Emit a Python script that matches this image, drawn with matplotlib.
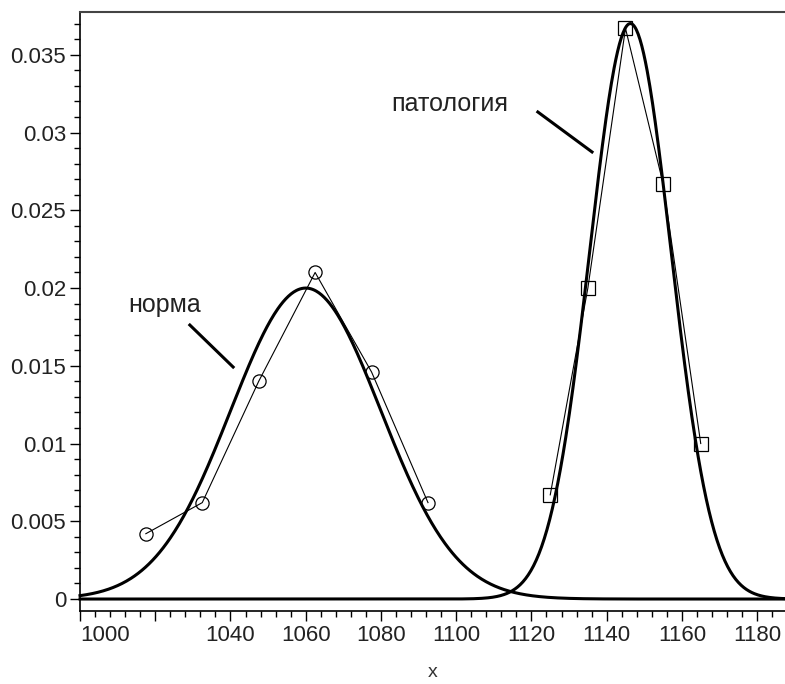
import numpy as np
import matplotlib.pyplot as plt
from matplotlib.ticker import MultipleLocator

# fitted normal curves (mean, sigma)
norm_mu, norm_sigma = 1060, 19.95
pat_mu, pat_sigma = 1146.3, 10.78

# histogram points
norm_x = [1017.5, 1032.5, 1047.5, 1062.5, 1077.5, 1092.5]
norm_y = [0.0042, 0.0062, 0.0140, 0.0210, 0.0146, 0.0062]
pat_x = [1125, 1135, 1145, 1155, 1165]
pat_y = [0.0067, 0.0200, 0.0367, 0.0267, 0.0100]

xticks = [1000, 1020, 1040, 1060, 1080, 1100, 1120, 1140, 1160, 1180]
xlabels = ['1000', '', '1040', '1060', '1080', '1100', '1120', '1140', '1160', '1180']
yticks = [0, 0.005, 0.01, 0.015, 0.02, 0.025, 0.03, 0.035]
ylabels = ['0', '0.005', '0.01', '0.015', '0.02', '0.025', '0.03', '0.035']

def gauss(x, mu, s):
    return np.exp(-(x - mu) ** 2 / (2 * s * s)) / (s * np.sqrt(2 * np.pi))

plt.rcParams['font.family'] = ['Liberation Sans', 'DejaVu Sans']

fig = plt.figure(figsize=(7.85, 6.84), dpi=100)
ax = fig.add_axes([80 / 785, 73 / 684, 705 / 785, 599 / 684])

xs = np.linspace(1000, 1190, 800)
ax.plot(xs, gauss(xs, norm_mu, norm_sigma), color='black', lw=2.2, clip_on=False)
ax.plot(xs, gauss(xs, pat_mu, pat_sigma), color='black', lw=2.2, clip_on=False)

ax.plot(norm_x, norm_y, color='black', lw=0.8, marker='o', ms=9.5,
        mfc='none', mec='black', mew=0.9)
ax.plot(pat_x, pat_y, color='black', lw=0.8, marker='s', ms=9.5,
        mfc='none', mec='black', mew=0.9)

# labels with pointer lines
ax.plot([1029.2, 1040.7], [0.01762, 0.01492], color='black', lw=2.2)
ax.plot([1121.7, 1136.1], [0.03132, 0.02875], color='black', lw=2.2)
ax.text(1012.8, 0.0189, 'норма', fontsize=18, va='center', ha='left', color='#222222')
ax.text(1082.7, 0.03183, 'патология', fontsize=18, va='center', ha='left', color='#222222')

ax.set_xlim(1000, 1187.4)
ax.set_ylim(-0.00077, 0.03775)

ax.set_xticks(xticks)
ax.set_xticklabels(xlabels)
ax.set_yticks(yticks)
ax.set_yticklabels(ylabels)
ax.xaxis.set_minor_locator(MultipleLocator(4))
ax.yaxis.set_minor_locator(MultipleLocator(0.001))
ax.tick_params(axis='both', which='major', direction='out', length=7, width=1,
               labelsize=16, colors='black', labelcolor='#222222', pad=3)
ax.tick_params(axis='both', which='minor', direction='out', length=4, width=1)
ax.get_xticklabels()[0].set_ha('left')

ax.spines['right'].set_visible(False)
ax.spines['top'].set_color('#444444')
ax.spines['top'].set_linewidth(1.5)
ax.spines['left'].set_linewidth(1.2)
ax.spines['bottom'].set_linewidth(1.2)

ax.set_xlabel('x', fontsize=14, color='#333333', labelpad=13)

fig.savefig('out.png', dpi=100)
